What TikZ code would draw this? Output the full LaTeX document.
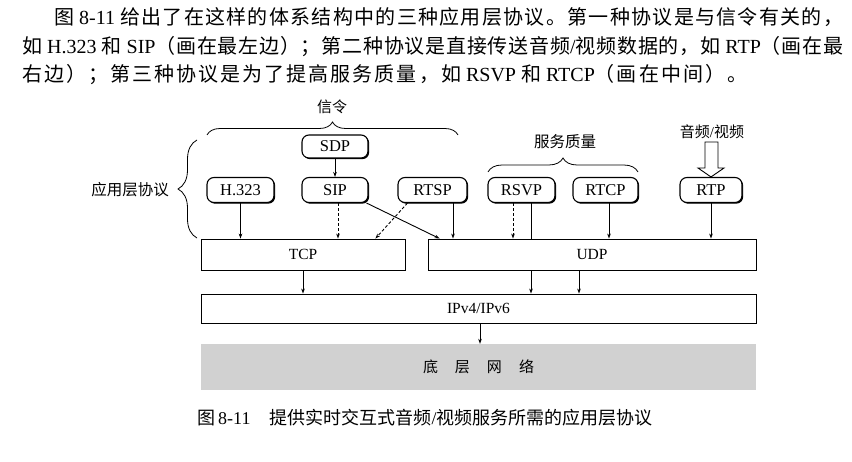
\documentclass[tikz,border=0pt]{standalone}
\usepackage{fontspec}
\setmainfont{Liberation Serif}
\newfontfamily\zh{Noto Sans CJK SC}
\usetikzlibrary{arrows.meta,decorations.pathreplacing,shadows}
\newcount\mycc
\mycc="4E00
\loop \XeTeXcharclass\mycc=1 \advance\mycc by 1 \ifnum\mycc<"A000 \repeat
\XeTeXcharclass"FF0C=1 \XeTeXcharclass"3002=1 \XeTeXcharclass"FF1B=1
\XeTeXcharclass"FF08=1 \XeTeXcharclass"FF09=1 \XeTeXcharclass"3001=1
\XeTeXinterchartokenstate=1
\XeTeXinterchartoks 1 1 = {\hskip0pt plus 1fil\relax}
\pgfdeclarelayer{bg}
\pgfsetlayers{bg,main}
\tikzset{
  pbox/.style={draw, line width=1.1pt, rounded corners=7pt, fill=white, inner sep=0pt,
    minimum height=25pt, font=\fontsize{16.5}{16.5}\selectfont,
    drop shadow={shadow xshift=1.2pt, shadow yshift=-1.2pt, opacity=1, fill=black}},
  lbox/.style={draw, line width=0.9pt, fill=white, inner sep=0pt, font=\fontsize{15.5}{15.5}\selectfont},
  netbox/.style={fill=black!18, draw=none, inner sep=0pt, font=\fontsize{15}{15}\selectfont},
  arr/.style={line width=0.9pt, -{Stealth[length=5pt,width=3.6pt]}},
  dsh/.style={dash pattern=on 3pt off 2pt},
  brc/.style={line width=0.8pt, decorate, decoration={brace, amplitude=#1}},
  lbl/.style={inner sep=0pt, font=\fontsize{15}{15}\selectfont},
  txt/.style={anchor=base west, inner sep=0pt, font=\fontsize{20}{20}\selectfont}
}
\begin{document}
\begin{tikzpicture}[x=1pt,y=-1pt]
\useasboundingbox (0,0) rectangle (852,462);
% paragraph
\node[txt] (l1) at (54,25) {\makebox[789pt][s]{{\zh 图} 8-11 {\zh 给出了在这样的体系结构中的三种应用层协议。第一种协议是与信令有关的，}}};
\node[txt] (l2) at (22,54) {\makebox[821pt][s]{{\zh 如} H.323 {\zh 和} SIP{\zh （画在最左边）；第二种协议是直接传送音频}/{\zh 视频数据的，如} RTP{\zh （画在最}}};
\node[txt] (l3) at (22,82) {\makebox[725pt][s]{{\zh 右边）；第三种协议是为了提高服务质量，如} RSVP {\zh 和} RTCP{\zh （画在中间）。}}};
% labels
\node[lbl] (xl) at (332,107) {\zh 信令};
\node[lbl, font=\fontsize{15.5}{15.5}\selectfont] (fw) at (565,142) {\zh 服务质量};
\node[lbl] (av) at (712,132) {{\zh 音频}/{\zh 视频}};
\node[lbl, font=\fontsize{15.5}{15.5}\selectfont] (yy) at (130,190) {\zh 应用层协议};
% braces
\draw[brc=13pt] (207,135) -- (458,135);
\draw[brc=14pt] (488,172) -- (638,172);
\draw[brc=19pt] (197,238) -- (197,140);
% protocol nodes
\node[pbox, minimum width=66pt, minimum height=23pt] (sdp) at (335,146.5) {SDP};
\node[pbox, minimum width=66pt] (sip) at (335,190) {SIP};
\node[pbox, minimum width=67pt] (h323) at (240.5,190) {H.323};
\node[pbox, minimum width=69pt] (rtsp) at (432.5,190) {RTSP};
\node[pbox, minimum width=67pt] (rsvp) at (521.5,190) {RSVP};
\node[pbox, minimum width=65pt] (rtcp) at (605.5,190) {RTCP};
\node[pbox, minimum width=62pt] (rtp) at (711,190) {RTP};
% layers
\node[lbox, minimum width=204pt, minimum height=31pt] (tcp) at (303,254.5) {TCP};
\node[lbox, minimum width=328pt, minimum height=31pt] (udp) at (592,254.5) {UDP};
\node[lbox, minimum width=555pt, minimum height=29pt] (ip) at (478.5,308.5) {IPv4/IPv6};
\node[netbox, minimum width=555pt, minimum height=46pt] (net) at (478.5,367) {\zh 底\hspace{17pt}层\hspace{17pt}网\hspace{17pt}络};
% hollow arrow
\draw[line width=0.9pt, fill=white] (705,142) -- (718,142) -- (718,168) -- (724,168) -- (rtp.north) -- (698,168) -- (705,168) -- cycle;
% connectors
\draw[arr] (sdp) -- (sip);
\draw[arr] (h323.south) -- (h323.south |- tcp.north);
\draw[arr,dsh] ([xshift=3pt]sip.south) -- ([xshift=3pt]sip.south |- tcp.north);
\draw[arr] ([xshift=-2pt]sip.south east) -- ([xshift=12pt]udp.north west);
\draw[arr,dsh] ([xshift=10pt]rtsp.south west) -- ([xshift=-30pt]tcp.north east);
\draw[arr] ([xshift=20.5pt]rtsp.south) -- ([xshift=20.5pt]rtsp.south |- udp.north);
\draw[arr,dsh] ([xshift=-8.5pt]rsvp.south) -- ([xshift=-8.5pt]rsvp.south |- udp.north);
\begin{pgfonlayer}{bg}
\draw[arr] ([xshift=9.5pt]rsvp.south) -- ([xshift=9.5pt]rsvp.south |- ip.north);
\end{pgfonlayer}
\draw[arr] ([xshift=3.5pt]rtcp.south) -- ([xshift=3.5pt]rtcp.south |- udp.north);
\draw[arr] (rtp.south) -- (rtp.south |- udp.north);
\draw[arr] (tcp.south) -- (tcp.south |- ip.north);
\draw[arr] ([xshift=-13pt]udp.south) -- ([xshift=-13pt]udp.south |- ip.north);
\draw[arr] ([xshift=1.5pt]ip.south) -- ([xshift=1.5pt]ip.south |- net.north);
% caption
\node[anchor=west, inner sep=0pt, font=\fontsize{18}{18}\selectfont] (cap) at (197,418) {{\zh 图}\,8-11\hspace{19pt}{\zh 提供实时交互式音频}/{\zh 视频服务所需的应用层协议}};
\end{tikzpicture}
\end{document}
